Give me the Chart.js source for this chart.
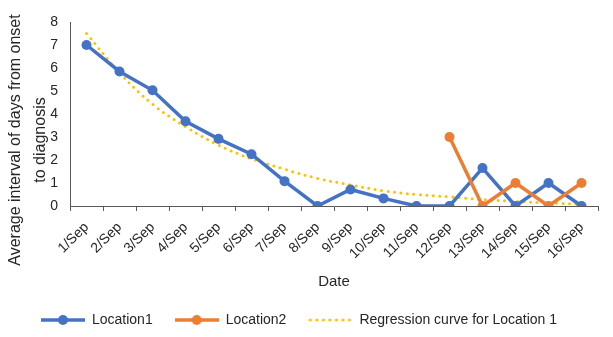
<!DOCTYPE html>
<html lang="en">
<head>
    <meta charset="UTF-8">
    <title>Interval from onset to diagnosis</title>
    <script src="https://cdn.jsdelivr.net/npm/chart.js"></script>
    <style>
        html, body { margin: 0; padding: 0; background: #fff; }
        #wrap { width: 613px; height: 337px; }
    </style>
</head>
<body>
    <div id="wrap"><canvas id="chart" width="613" height="337"></canvas></div>
    <script>
        const dates = ['1/Sep', '2/Sep', '3/Sep', '4/Sep', '5/Sep', '6/Sep', '7/Sep', '8/Sep',
            '9/Sep', '10/Sep', '11/Sep', '12/Sep', '13/Sep', '14/Sep', '15/Sep', '16/Sep'];
        const location1 = [7, 5.85, 5.03, 3.68, 2.92, 2.25, 1.08, 0, 0.72, 0.33, 0, 0, 1.65, 0, 1, 0];
        const location2 = [null, null, null, null, null, null, null, null, null, null, null, 3, 0, 1, 0, 1];
        const regression = [7.5, 5.8, 4.43, 3.45, 2.65, 2.05, 1.6, 1.2, 0.92, 0.66, 0.5, 0.4, 0.28, 0.2, 0.13, 0.08];
        const yTitle = ['Average interval of days from onset', 'to diagnosis'];

        const BLUE = '#4472C4', ORANGE = '#ED7D31', YELLOW = '#FFC000';
        const FONT = "'Liberation Sans', Arial, sans-serif";
        const TEXT = '#262626';

        // legend swatches: line + marker like the office style
        function swatch(color, dotted) {
            const c = document.createElement('canvas');
            c.width = 44; c.height = 12;
            const g = c.getContext('2d');
            if (dotted) {
                g.fillStyle = color;
                for (let x = 2; x < 44; x += 6.5) {
                    g.beginPath(); g.arc(x, 6, 1.6, 0, Math.PI * 2); g.fill();
                }
            } else {
                g.strokeStyle = color; g.lineWidth = 3.5;
                g.beginPath(); g.moveTo(0, 6); g.lineTo(44, 6); g.stroke();
                g.fillStyle = color;
                g.beginPath(); g.arc(22, 6, 5, 0, Math.PI * 2); g.fill();
            }
            return c;
        }
        const swatches = [swatch(BLUE), swatch(ORANGE), swatch(YELLOW, true)];

        const yTitlePlugin = {
            id: 'yTitle',
            afterDraw(chart) {
                const ctx = chart.ctx;
                ctx.save();
                ctx.fillStyle = TEXT;
                ctx.font = '16px ' + FONT;
                ctx.textAlign = 'center';
                ctx.textBaseline = 'middle';
                const xs = [16, 41];
                yTitle.forEach((t, i) => {
                    ctx.save();
                    ctx.translate(xs[i], 140);
                    ctx.rotate(-Math.PI / 2);
                    ctx.fillText(t, 0, 0);
                    ctx.restore();
                });
                ctx.restore();
            }
        };

        new Chart(document.getElementById('chart'), {
            type: 'line',
            data: {
                labels: dates,
                datasets: [{
                    label: 'Location1',
                    data: location1,
                    borderColor: BLUE,
                    backgroundColor: BLUE,
                    borderWidth: 3.5,
                    pointRadius: 5,
                    pointBorderWidth: 0,
                    order: 2
                }, {
                    label: 'Location2',
                    data: location2,
                    borderColor: ORANGE,
                    backgroundColor: ORANGE,
                    borderWidth: 3.5,
                    pointRadius: 5,
                    pointBorderWidth: 0,
                    order: 1
                }, {
                    label: 'Regression curve for Location 1',
                    data: regression,
                    borderColor: YELLOW,
                    backgroundColor: YELLOW,
                    borderWidth: 3,
                    borderDash: [0, 6.5],
                    borderCapStyle: 'round',
                    pointRadius: 0,
                    tension: 0.4,
                    order: 3
                }]
            },
            options: {
                responsive: false,
                animation: false,
                layout: { padding: { top: 22, right: 15, left: 0, bottom: 0 } },
                plugins: {
                    tooltip: { enabled: false },
                    legend: {
                        position: 'bottom',
                        labels: {
                            color: TEXT,
                            font: { family: FONT, size: 14 },
                            usePointStyle: true,
                            pointStyleWidth: 44,
                            padding: 22,
                            sort: (a, b) => a.datasetIndex - b.datasetIndex,
                            generateLabels(chart) {
                                const items = Chart.defaults.plugins.legend.labels.generateLabels(chart);
                                items.forEach(it => { it.pointStyle = swatches[it.datasetIndex]; });
                                return items;
                            }
                        }
                    }
                },
                scales: {
                    x: {
                        offset: true,
                        grid: { offset: true, drawOnChartArea: false, tickLength: 5, color: '#595959' },
                        border: { color: '#595959', width: 1 },
                        ticks: { color: TEXT, font: { family: FONT, size: 14 }, minRotation: 45, maxRotation: 45, padding: 8 },
                        title: { display: true, text: 'Date', color: TEXT, font: { family: FONT, size: 15 }, padding: { top: 4, bottom: 0 } },
                        afterFit(scale) { scale.height = 85; }
                    },
                    y: {
                        min: 0,
                        max: 8,
                        grid: { display: false },
                        border: { display: true, color: '#595959', width: 1 },
                        ticks: { stepSize: 1, color: TEXT, font: { family: FONT, size: 14 }, padding: 4 },
                        afterFit(scale) { scale.width = 70; }
                    }
                }
            },
            plugins: [yTitlePlugin]
        });
    </script>
</body>
</html>
